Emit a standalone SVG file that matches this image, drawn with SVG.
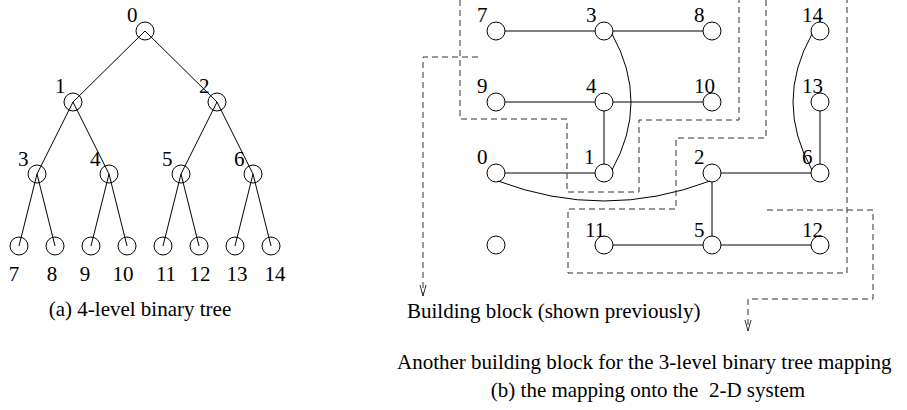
<svg xmlns="http://www.w3.org/2000/svg" width="907" height="410" viewBox="0 0 907 410">
<style>
text{font-family:"Liberation Serif","Times New Roman",serif;font-size:21px;fill:#000}
.n{fill:none;stroke:#000;stroke-width:1}
.e{fill:none;stroke:#000;stroke-width:1}
.d{fill:none;stroke:#333;stroke-width:1;stroke-dasharray:6 4}
.m{text-anchor:middle}
</style>
<defs>
<marker id="v" markerUnits="userSpaceOnUse" markerWidth="12" markerHeight="8" refX="11" refY="4" orient="auto" overflow="visible">
<path d="M0,1 L11,4 L0,7" fill="none" stroke="#333" stroke-width="1" stroke-dasharray="none"/>
</marker>
</defs>
<rect width="907" height="410" fill="#fff"/>

<g id="connectors">
<g id="tree-edges">
<line class="e" x1="145" y1="31" x2="73" y2="102"/>
<line class="e" x1="145" y1="31" x2="217" y2="102"/>
<line class="e" x1="73" y1="102" x2="37" y2="174"/>
<line class="e" x1="73" y1="102" x2="109" y2="174"/>
<line class="e" x1="217" y1="102" x2="181" y2="174"/>
<line class="e" x1="217" y1="102" x2="253" y2="174"/>
<line class="e" x1="37" y1="174" x2="19" y2="246"/>
<line class="e" x1="37" y1="174" x2="55" y2="246"/>
<line class="e" x1="109" y1="174" x2="91" y2="246"/>
<line class="e" x1="109" y1="174" x2="127" y2="246"/>
<line class="e" x1="181" y1="174" x2="163" y2="246"/>
<line class="e" x1="181" y1="174" x2="199" y2="246"/>
<line class="e" x1="253" y1="174" x2="235" y2="246"/>
<line class="e" x1="253" y1="174" x2="271" y2="246"/>
</g>
<g id="mesh-edges">
<line class="e" x1="505" y1="31" x2="595" y2="31"/>
<line class="e" x1="613" y1="31" x2="703" y2="31"/>
<line class="e" x1="505" y1="102" x2="595" y2="102"/>
<line class="e" x1="613" y1="102" x2="703" y2="102"/>
<line class="e" x1="604" y1="111" x2="604" y2="164"/>
<line class="e" x1="505" y1="173" x2="595" y2="173"/>
<line class="e" x1="721" y1="173" x2="811" y2="173"/>
<line class="e" x1="820" y1="111" x2="820" y2="164"/>
<line class="e" x1="712" y1="182" x2="712" y2="236"/>
<line class="e" x1="613" y1="245" x2="703" y2="245"/>
<line class="e" x1="721" y1="245" x2="811" y2="245"/>
<path class="e" d="M612,34 Q650,102 612,170"/>
<path class="e" d="M812,34 Q774,102 812,170"/>
<path class="e" d="M498,181 Q604,221 710,181"/>
</g>
<g id="dashed">
<path class="d" d="M460,0 V119 H567 V192 H639 V120 H739 V0"/>
<path class="d" d="M766,0 V138 H676 V209 H568 V273 H847 V0"/>
<path class="d" d="M478,57 H423 V296" marker-end="url(#v)"/>
<path class="d" d="M767,210 H873 V299 H748 V331" marker-end="url(#v)"/>
</g>
</g>

<g id="t0"><circle class="n" cx="145" cy="31" r="9"/><text x="127" y="22">0</text></g>
<g id="t1"><circle class="n" cx="73" cy="102" r="9"/><text x="55" y="93">1</text></g>
<g id="t2"><circle class="n" cx="217" cy="102" r="9"/><text x="199" y="93">2</text></g>
<g id="t3"><circle class="n" cx="37" cy="174" r="9"/><text x="18" y="166">3</text></g>
<g id="t4"><circle class="n" cx="109" cy="174" r="9"/><text x="90" y="166">4</text></g>
<g id="t5"><circle class="n" cx="181" cy="174" r="9"/><text x="162" y="166">5</text></g>
<g id="t6"><circle class="n" cx="253" cy="174" r="9"/><text x="234" y="166">6</text></g>
<g id="t7"><circle class="n" cx="19" cy="246" r="9"/><text class="m" x="14" y="281">7</text></g>
<g id="t8"><circle class="n" cx="55" cy="246" r="9"/><text class="m" x="52" y="281">8</text></g>
<g id="t9"><circle class="n" cx="91" cy="246" r="9"/><text class="m" x="85" y="281">9</text></g>
<g id="t10"><circle class="n" cx="127" cy="246" r="9"/><text class="m" x="123" y="281">10</text></g>
<g id="t11"><circle class="n" cx="163" cy="246" r="9"/><text class="m" x="166" y="281">11</text></g>
<g id="t12"><circle class="n" cx="199" cy="246" r="9"/><text class="m" x="200" y="281">12</text></g>
<g id="t13"><circle class="n" cx="235" cy="246" r="9"/><text class="m" x="237" y="281">13</text></g>
<g id="t14"><circle class="n" cx="271" cy="246" r="9"/><text class="m" x="275" y="281">14</text></g>
<text class="m" x="140" y="316">(a) 4-level binary tree</text>

<g id="m7"><circle class="n" cx="496" cy="31" r="9"/><text x="477" y="22">7</text></g>
<g id="m3"><circle class="n" cx="604" cy="31" r="9"/><text x="586" y="22">3</text></g>
<g id="m8"><circle class="n" cx="712" cy="31" r="9"/><text x="694" y="22">8</text></g>
<g id="m14"><circle class="n" cx="820" cy="31" r="9"/><text x="802" y="22">14</text></g>
<g id="m9"><circle class="n" cx="496" cy="102" r="9"/><text x="477" y="93">9</text></g>
<g id="m4"><circle class="n" cx="604" cy="102" r="9"/><text x="586" y="93">4</text></g>
<g id="m10"><circle class="n" cx="712" cy="102" r="9"/><text x="694" y="93">10</text></g>
<g id="m13"><circle class="n" cx="820" cy="102" r="9"/><text x="802" y="93">13</text></g>
<g id="m0"><circle class="n" cx="496" cy="173" r="9"/><text x="477" y="164">0</text></g>
<g id="m1"><circle class="n" cx="604" cy="173" r="9"/><text x="584" y="164">1</text></g>
<g id="m2"><circle class="n" cx="712" cy="173" r="9"/><text x="694" y="164">2</text></g>
<g id="m6"><circle class="n" cx="820" cy="173" r="9"/><text x="802" y="164">6</text></g>
<g id="mE"><circle class="n" cx="496" cy="245" r="9"/></g>
<g id="m11"><circle class="n" cx="604" cy="245" r="9"/><text x="585" y="237">11</text></g>
<g id="m5"><circle class="n" cx="712" cy="245" r="9"/><text x="694" y="237">5</text></g>
<g id="m12"><circle class="n" cx="820" cy="245" r="9"/><text x="802" y="237">12</text></g>

<text x="407" y="318">Building block (shown previously)</text>
<text x="397" y="369">Another building block for the 3-level binary tree mapping</text>
<text class="m" x="648" y="397" xml:space="preserve">(b) the mapping onto the  2-D system</text>
</svg>
